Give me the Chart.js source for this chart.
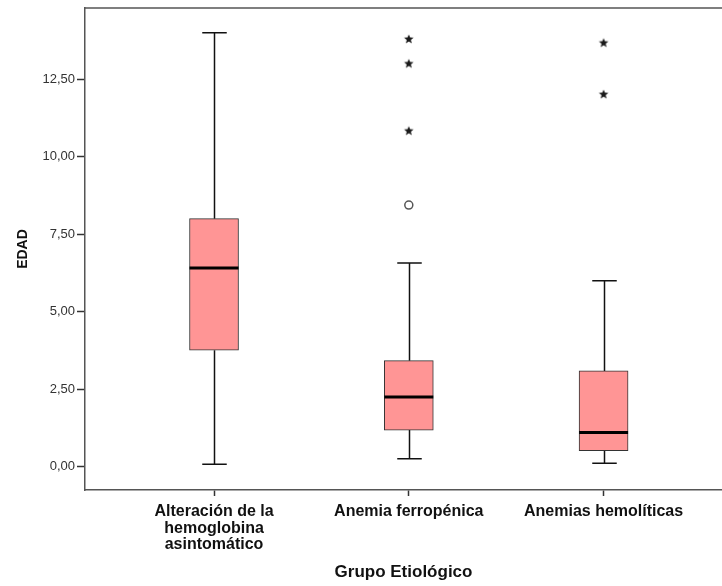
<!DOCTYPE html>
<html>
<head>
<meta charset="utf-8">
<script src="https://cdn.jsdelivr.net/npm/chart.js@4/dist/chart.umd.min.js"></script>
<style>
  html, body { margin: 0; padding: 0; background: #fff; overflow: hidden; }
  #wrap { width: 722px; height: 586px; }
</style>
</head>
<body>
<div id="wrap"><canvas id="c" width="722" height="586"></canvas></div>
<script>
// Age (EDAD) by etiological group: five-number summaries and outliers
const categories = [["Alteración de la", "hemoglobina", "asintomático"], "Anemia ferropénica", "Anemias hemolíticas"];
const whiskerLow  = [0.08, 0.26, 0.11];
const q1          = [3.76, 1.18, 0.52];
const median      = [6.41, 2.25, 1.10];
const q3          = [8.00, 3.42, 3.09];
const whiskerHigh = [14.00, 6.57, 6.00];
const outliers    = [[], [8.44], []];                 // drawn as circles
const extremes    = [[], [10.84, 13.01, 13.80], [12.02, 13.68]]; // drawn as stars
const yTicks      = [0, 2.5, 5, 7.5, 10, 12.5];

const BOX_W = 49;
const FILL = '#ff9595';

// small filled five-point star used for extreme values
const star = document.createElement('canvas');
star.width = 12; star.height = 12;
(function () {
  const g = star.getContext('2d');
  g.fillStyle = '#1a1a1a';
  g.beginPath();
  for (let k = 0; k < 10; k++) {
    const r = k % 2 === 0 ? 5.0 : 2.2;
    const a = -Math.PI / 2 + k * Math.PI / 5;
    const px = 6 + r * Math.cos(a), py = 6.4 + r * Math.sin(a);
    k === 0 ? g.moveTo(px, py) : g.lineTo(px, py);
  }
  g.closePath();
  g.fill();
})();

const toPoints = (groups) => groups.flatMap((vals, i) => vals.map(v => ({ x: i, y: v })));

const boxParts = {
  id: 'boxParts',
  beforeDatasetsDraw(chart) {
    const { ctx, scales: { x, y } } = chart;
    ctx.save();
    ctx.strokeStyle = '#111';
    ctx.lineWidth = 1.5;
    for (let i = 0; i < categories.length; i++) {
      const cx = Math.round(x.getPixelForValue(i)) + 0.5;
      const half = BOX_W / 4;
      ctx.beginPath();
      ctx.moveTo(cx, y.getPixelForValue(q3[i]));
      ctx.lineTo(cx, y.getPixelForValue(whiskerHigh[i]));
      ctx.moveTo(cx, y.getPixelForValue(q1[i]));
      ctx.lineTo(cx, y.getPixelForValue(whiskerLow[i]));
      const yh = y.getPixelForValue(whiskerHigh[i]);
      const yl = y.getPixelForValue(whiskerLow[i]);
      ctx.moveTo(cx - half, yh); ctx.lineTo(cx + half, yh);
      ctx.moveTo(cx - half, yl); ctx.lineTo(cx + half, yl);
      ctx.stroke();
    }
    ctx.restore();
  },
  afterDatasetsDraw(chart) {
    const { ctx, chartArea, scales: { x, y } } = chart;
    ctx.save();
    ctx.strokeStyle = '#000';
    ctx.lineWidth = 3;
    for (let i = 0; i < categories.length; i++) {
      const cx = x.getPixelForValue(i);
      const my = y.getPixelForValue(median[i]);
      ctx.beginPath();
      ctx.moveTo(cx - BOX_W / 2, my);
      ctx.lineTo(cx + BOX_W / 2, my);
      ctx.stroke();
    }
    // top edge of the frame
    ctx.strokeStyle = '#555';
    ctx.lineWidth = 1.5;
    ctx.beginPath();
    ctx.moveTo(chartArea.left, chartArea.top);
    ctx.lineTo(chartArea.right, chartArea.top);
    ctx.stroke();
    ctx.restore();
  }
};

new Chart(document.getElementById('c'), {
  data: {
    datasets: [
      {
        type: 'scatter',
        data: toPoints(extremes),
        pointStyle: star,
        pointRadius: 5
      },
      {
        type: 'scatter',
        data: toPoints(outliers),
        pointStyle: 'circle',
        pointRadius: 4,
        borderColor: '#555',
        borderWidth: 1.5,
        backgroundColor: '#fff'
      },
      {
        type: 'bar',
        data: q1.map((v, i) => ({ x: i, y: [q1[i], q3[i]] })),
        backgroundColor: FILL,
        borderColor: '#333',
        borderWidth: 1,
        borderSkipped: false,
        barThickness: BOX_W
      }
    ]
  },
  options: {
    responsive: false,
    animation: false,
    devicePixelRatio: 1,
    layout: { autoPadding: false, padding: { top: 8, right: 0, left: 0, bottom: 0 } },
    plugins: { legend: { display: false }, tooltip: { enabled: false } },
    scales: {
      x: {
        type: 'linear',
        offset: false,
        min: -0.6624,
        max: 2.608,
        afterBuildTicks: s => { s.ticks = categories.map((_, i) => ({ value: i })); },
        afterFit: s => { s.height = 96; s.paddingLeft = 0; s.paddingRight = 0; },
        ticks: {
          autoSkip: false,
          maxRotation: 0,
          padding: 7,
          color: '#111',
          font: { family: 'Liberation Sans, Arial, sans-serif', size: 16, weight: 'bold', lineHeight: 1.05 },
          callback: v => categories[v]
        },
        grid: { offset: false, drawOnChartArea: false, drawTicks: true, tickLength: 6, color: '#333', tickWidth: 1.5 },
        border: { color: '#555', width: 1.5 },
        title: {
          display: true,
          text: 'Grupo Etiológico',
          color: '#111',
          font: { family: 'Liberation Sans, Arial, sans-serif', size: 17, weight: 'bold' },
          padding: { top: 0, bottom: 3 }
        }
      },
      y: {
        type: 'linear',
        min: -0.752,
        max: 14.797,
        afterBuildTicks: s => { s.ticks = yTicks.map(v => ({ value: v })); },
        afterFit: s => { s.width = 85; s.paddingTop = 0; s.paddingBottom = 0; },
        ticks: {
          padding: 2,
          color: '#333',
          font: { family: 'Liberation Sans, Arial, sans-serif', size: 13 },
          callback: v => v.toFixed(2).replace('.', ',')
        },
        grid: { drawOnChartArea: false, drawTicks: true, tickLength: 8, color: '#333', tickWidth: 1.5 },
        border: { color: '#555', width: 1.5 },
        title: {
          display: true,
          text: 'EDAD',
          color: '#111',
          font: { family: 'Liberation Sans, Arial, sans-serif', size: 14, weight: 'bold' },
          padding: { top: 14.6, bottom: 0 }
        }
      }
    }
  },
  plugins: [boxParts]
});
</script>
</body>
</html>
